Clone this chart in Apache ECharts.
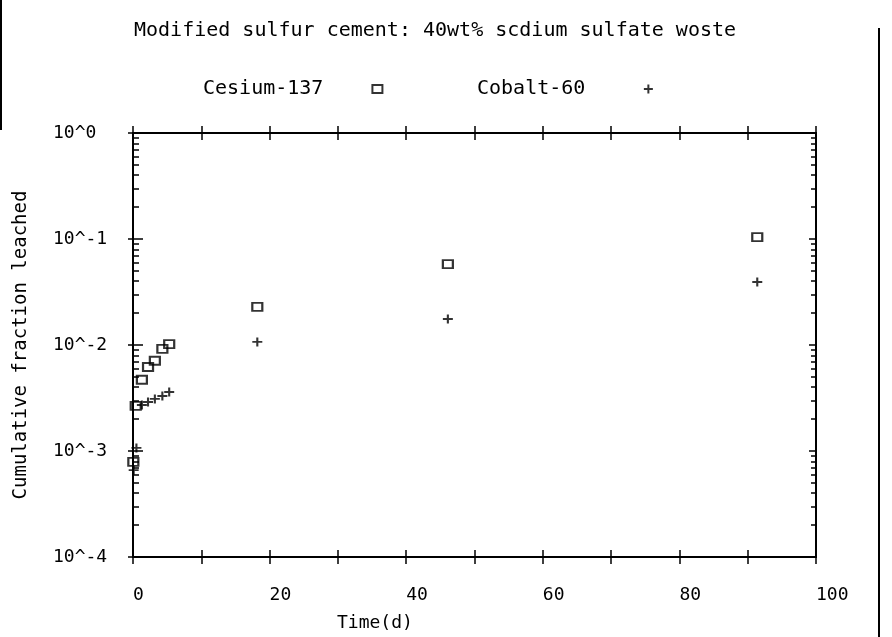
<!DOCTYPE html>
<html lang="en">
<head>
    <meta charset="UTF-8">
    <title>Modified sulfur cement leach</title>
    <script src="https://cdn.jsdelivr.net/npm/echarts@6/dist/echarts.min.js"></script>
</head>
<style>
    html, body { margin: 0; padding: 0; background: #fff; }
    #container { width: 892px; height: 637px; }
</style>
<body>
<div id="container"></div>
<script>
    // data (time in days, cumulative fraction)
    var cesiumTime = [0.05, 0.4, 1.3, 2.2, 3.2, 4.3, 5.3, 18.2, 46.1, 91.4];
    var cesiumFrac = [0.00079, 0.00266, 0.0047, 0.0062, 0.0071, 0.0092, 0.0102, 0.0229, 0.058, 0.104];
    var cobaltTime = [0.1, 0.5, 1.3, 2.2, 3.2, 4.3, 5.3, 18.2, 46.1, 91.4];
    var cobaltFrac = [0.00066, 0.00107, 0.00272, 0.0029, 0.0031, 0.0033, 0.0036, 0.0107, 0.0176, 0.0393];

    var seriesNames = ['Cesium-137', 'Cobalt-60'];
    var xLabelValues = [0, 20, 40, 60, 80, 100];
    var yTickValues = [0.0001, 0.001, 0.01, 0.1, 1];
    var yTickLabels = ['10^-4', '10^-3', '10^-2', '10^-1', '10^0'];
    var yMinorValues = [];
    for (var d = 0; d < 4; d++) {
        for (var m = 2; m <= 9; m++) {
            yMinorValues.push(m * yTickValues[d]);
        }
    }

    var font = 'DejaVu Sans Mono';
    var rectPath = 'path://M0,0L10,0L10,8L0,8Z';
    var plusPath = 'path://M0,5L10,5M5,0L5,10';

    function pairs(xs, ys) {
        return xs.map(function (x, i) { return [x, ys[i]]; });
    }

    function xAxisPart(pos, inside, showLabel) {
        return {
            type: 'value', min: 0, max: 100, interval: 10, position: pos,
            axisLine: { show: true, lineStyle: { color: '#000', width: 2 } },
            axisTick: { show: true, inside: inside, length: 7, lineStyle: { color: '#000', width: 1.5 } },
            splitLine: { show: false },
            axisLabel: {
                show: showLabel, align: 'left', verticalAlign: 'middle', margin: 38,
                color: '#000', fontFamily: font, fontSize: 18,
                formatter: function (v) { return xLabelValues.indexOf(v) >= 0 ? String(v) : ''; }
            }
        };
    }

    function yAxisPart(pos, inside, len, values, showLabel) {
        return {
            type: 'log', logBase: 10, min: 0.0001, max: 1, position: pos,
            axisLine: { show: true, lineStyle: { color: '#000', width: 2 } },
            axisTick: { show: true, inside: inside, length: len, customValues: values, lineStyle: { color: '#000', width: 1.5 } },
            splitLine: { show: false },
            axisLabel: {
                show: showLabel, customValues: yTickValues, align: 'left', margin: 80,
                color: '#000', fontFamily: font, fontSize: 18,
                formatter: function (v) {
                    var i = yTickValues.indexOf(Math.pow(10, Math.round(Math.log10(v))));
                    return i >= 0 ? yTickLabels[i] : '';
                }
            }
        };
    }

    var chart = echarts.init(document.getElementById('container'));

    var yLeft = yAxisPart('left', false, 5, yTickValues, true);
    yLeft.name = 'Cumulative fraction leached';
    yLeft.nameLocation = 'middle';
    yLeft.nameGap = 102;
    yLeft.nameTextStyle = { color: '#000', fontFamily: font, fontSize: 19 };

    var option = {
        animation: false,
        backgroundColor: '#fff',
        title: [
            {
                text: 'Modified sulfur cement: 40wt% scdium sulfate woste',
                left: 134, top: 21, padding: 0,
                textStyle: { color: '#000', fontFamily: font, fontSize: 20, fontWeight: 'normal' }
            },
            {
                text: 'Time(d)',
                left: 337, top: 614, padding: 0,
                textStyle: { color: '#000', fontFamily: font, fontSize: 18, fontWeight: 'normal' }
            }
        ],
        legend: [
            {
                data: [{ name: seriesNames[0], icon: rectPath }], left: 198, top: 74, align: 'right',
                itemWidth: 98, itemHeight: 8,
                textStyle: { color: '#000', fontFamily: font, fontSize: 20 }
            },
            {
                data: [{ name: seriesNames[1], icon: plusPath }], left: 472, top: 74, align: 'right',
                itemWidth: 116, itemHeight: 9,
                textStyle: { color: '#000', fontFamily: font, fontSize: 20 }
            }
        ],
        grid: { left: 133, right: 76, top: 133, bottom: 80 },
        xAxis: [
            xAxisPart('bottom', false, true),
            xAxisPart('bottom', true, false),
            xAxisPart('top', false, false),
            xAxisPart('top', true, false)
        ],
        yAxis: [
            yLeft,
            yAxisPart('left', true, 10, yTickValues, false),
            yAxisPart('left', true, 6, yMinorValues, false),
            yAxisPart('right', false, 7, yTickValues, false),
            yAxisPart('right', true, 7, yTickValues, false),
            yAxisPart('right', true, 5, yMinorValues, false)
        ],
        series: [
            {
                name: seriesNames[0], type: 'scatter', xAxisIndex: 0, yAxisIndex: 0,
                symbol: 'rect', symbolSize: [10, 8],
                itemStyle: { color: 'rgba(0,0,0,0)', borderColor: '#000', borderWidth: 2 },
                data: pairs(cesiumTime, cesiumFrac)
            },
            {
                name: seriesNames[1], type: 'scatter', xAxisIndex: 0, yAxisIndex: 0,
                symbol: plusPath, symbolSize: [10, 9],
                itemStyle: { color: 'rgba(0,0,0,0)', borderColor: '#000', borderWidth: 2 },
                data: pairs(cobaltTime, cobaltFrac)
            }
        ],
        graphic: [
            { type: 'line', shape: { x1: 879, y1: 28, x2: 879, y2: 637 }, style: { stroke: '#000', lineWidth: 2 } },
            { type: 'line', shape: { x1: 1, y1: 0, x2: 1, y2: 130 }, style: { stroke: '#000', lineWidth: 2 } }
        ]
    };

    chart.setOption(option);
</script>
</body>
</html>
